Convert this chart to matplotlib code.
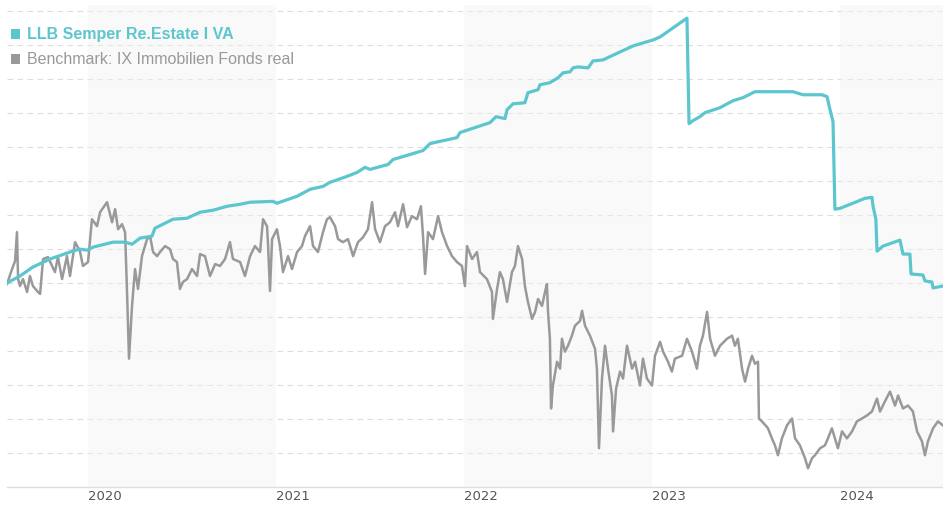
import matplotlib
matplotlib.use("Agg")
import matplotlib.pyplot as plt
from matplotlib.patches import Rectangle

# time in decimal years, values = performance in % since start
fund_t = [2019.569, 2019.638, 2019.707, 2019.798, 2019.920, 2019.957, 2019.995, 2020.027,
          2020.133, 2020.197, 2020.234, 2020.277, 2020.340, 2020.356, 2020.452, 2020.527,
          2020.596, 2020.665, 2020.739, 2020.809, 2020.862, 2020.984, 2021.005, 2021.112,
          2021.181, 2021.250, 2021.287, 2021.378, 2021.431, 2021.473, 2021.500, 2021.596,
          2021.622, 2021.713, 2021.782, 2021.819, 2021.963, 2021.979, 2022.138, 2022.170,
          2022.218, 2022.229, 2022.261, 2022.324, 2022.340, 2022.394, 2022.404, 2022.457,
          2022.500, 2022.527, 2022.564, 2022.580, 2022.606, 2022.660, 2022.686, 2022.739,
          2022.830, 2022.899, 2022.952, 2023.005, 2023.043, 2023.096, 2023.186, 2023.197,
          2023.218, 2023.255, 2023.282, 2023.362, 2023.431, 2023.484, 2023.548, 2023.574,
          2023.750, 2023.803, 2023.904, 2023.931, 2023.947, 2023.963, 2023.973, 2024.000,
          2024.069, 2024.133, 2024.170, 2024.176, 2024.191, 2024.197, 2024.229, 2024.319,
          2024.335, 2024.372, 2024.378, 2024.441, 2024.452, 2024.489, 2024.495, 2024.548]
fund_v = [0.0, 0.41, 0.94, 1.41, 1.88, 1.99, 1.93, 2.11,
          2.40, 2.40, 2.28, 2.64, 2.75, 3.22, 3.75, 3.81,
          4.16, 4.28, 4.51, 4.63, 4.75, 4.80, 4.69, 5.10,
          5.51, 5.68, 5.92, 6.27, 6.50, 6.80, 6.68, 6.97,
          7.26, 7.56, 7.79, 8.20, 8.55, 8.85, 9.43, 9.78,
          9.67, 10.19, 10.54, 10.60, 11.19, 11.37, 11.66, 11.78,
          12.07, 12.36, 12.42, 12.65, 12.71, 12.65, 13.06, 13.12,
          13.59, 13.94, 14.12, 14.29, 14.47, 14.88, 15.58, 9.37,
          9.55, 9.78, 10.02, 10.31, 10.72, 10.90, 11.25, 11.25,
          11.25, 11.07, 11.07, 10.96, 10.19, 9.49, 4.34, 4.39,
          4.69, 4.98, 5.04, 4.51, 3.75, 1.87, 2.17, 2.52,
          1.70, 1.70, 0.53, 0.47, 0.12, 0.06, -0.29, -0.18]

bench_t = [2019.569, 2019.596, 2019.612, 2019.622, 2019.628, 2019.638, 2019.654, 2019.676,
           2019.691, 2019.707, 2019.734, 2019.745, 2019.761, 2019.787, 2019.809, 2019.824,
           2019.840, 2019.862, 2019.888, 2019.904, 2019.931, 2019.957, 2019.973, 2020.000,
           2020.021, 2020.048, 2020.064, 2020.101, 2020.128, 2020.144, 2020.160, 2020.181,
           2020.197, 2020.207, 2020.218, 2020.234, 2020.250, 2020.266, 2020.287, 2020.314,
           2020.330, 2020.346, 2020.367, 2020.383, 2020.410, 2020.436, 2020.452, 2020.473,
           2020.489, 2020.505, 2020.527, 2020.553, 2020.580, 2020.596, 2020.622, 2020.649,
           2020.676, 2020.702, 2020.729, 2020.755, 2020.771, 2020.809, 2020.835, 2020.862,
           2020.888, 2020.915, 2020.931, 2020.952, 2020.957, 2020.968, 2020.979, 2021.005,
           2021.021, 2021.037, 2021.064, 2021.085, 2021.112, 2021.138, 2021.154, 2021.181,
           2021.197, 2021.223, 2021.250, 2021.271, 2021.287, 2021.314, 2021.330, 2021.356,
           2021.383, 2021.410, 2021.436, 2021.463, 2021.489, 2021.511, 2021.527, 2021.553,
           2021.580, 2021.606, 2021.633, 2021.649, 2021.676, 2021.697, 2021.723, 2021.750,
           2021.771, 2021.782, 2021.793, 2021.809, 2021.835, 2021.862, 2021.883, 2021.910,
           2021.936, 2021.963, 2021.989, 2022.005, 2022.016, 2022.043, 2022.069, 2022.085,
           2022.122, 2022.149, 2022.154, 2022.176, 2022.191, 2022.207, 2022.229, 2022.255,
           2022.271, 2022.287, 2022.309, 2022.324, 2022.340, 2022.362, 2022.378, 2022.394,
           2022.415, 2022.431, 2022.441, 2022.447, 2022.457, 2022.463, 2022.473, 2022.495,
           2022.511, 2022.521, 2022.537, 2022.553, 2022.574, 2022.590, 2022.617, 2022.628,
           2022.644, 2022.670, 2022.697, 2022.707, 2022.718, 2022.734, 2022.750, 2022.766,
           2022.787, 2022.793, 2022.809, 2022.830, 2022.846, 2022.867, 2022.894, 2022.910,
           2022.936, 2022.952, 2022.973, 2023.000, 2023.016, 2023.043, 2023.059, 2023.085,
           2023.106, 2023.122, 2023.160, 2023.186, 2023.213, 2023.239, 2023.255, 2023.271,
           2023.293, 2023.309, 2023.335, 2023.362, 2023.399, 2023.426, 2023.441, 2023.457,
           2023.479, 2023.495, 2023.511, 2023.532, 2023.548, 2023.564, 2023.569, 2023.590,
           2023.617, 2023.638, 2023.654, 2023.670, 2023.691, 2023.718, 2023.745, 2023.761,
           2023.787, 2023.814, 2023.830, 2023.851, 2023.867, 2023.894, 2023.920, 2023.936,
           2023.957, 2023.973, 2023.989, 2024.011, 2024.037, 2024.064, 2024.090, 2024.117,
           2024.144, 2024.170, 2024.197, 2024.213, 2024.239, 2024.266, 2024.293, 2024.309,
           2024.335, 2024.362, 2024.388, 2024.410, 2024.436, 2024.452, 2024.468, 2024.495,
           2024.521, 2024.548]
bench_v = [-0.06, 0.82, 1.29, 2.99, 0.23, -0.18, 0.23, -0.53,
           0.41, -0.18, -0.53, -0.64, 1.41, 1.52, 1.00, 0.64,
           1.52, 0.23, 1.58, 0.41, 2.40, 1.87, 1.00, 1.23,
           3.75, 3.34, 4.16, 4.75, 3.57, 4.34, 3.16, 3.46,
           2.99, -0.35, -4.45, -1.35, 0.82, -0.35, 1.58, 2.58,
           2.75, 1.82, 1.58, 1.82, 2.17, 1.99, 1.41, 1.23,
           -0.35, 0.06, 0.23, 0.82, 0.41, 1.70, 1.58, 0.41,
           1.11, 1.00, 1.41, 2.40, 1.41, 1.23, 0.41, 1.58,
           2.17, 1.82, 3.75, 3.34, 2.40, -0.47, 2.58, 3.16,
           2.17, 0.64, 1.58, 0.82, 1.82, 2.17, 2.75, 3.34,
           2.17, 1.82, 2.99, 3.75, 3.87, 3.34, 2.58, 2.40,
           2.58, 1.58, 2.40, 2.69, 3.16, 4.75, 3.16, 2.40,
           3.34, 3.57, 4.16, 3.34, 4.63, 3.28, 3.93, 3.75,
           4.51, 2.75, 0.53, 2.99, 2.58, 3.93, 2.99, 2.17,
           1.58, 1.23, 1.00, -0.18, 2.17, 1.41, 1.82, 0.64,
           0.23, -0.53, -2.11, -0.35, 0.64, 0.23, -1.11, 0.64,
           1.00, 2.17, 1.41, -0.18, -1.11, -2.11, -1.70, -0.94,
           -1.35, -0.53, -0.06, -1.70, -3.28, -7.38, -6.03, -4.63,
           -5.04, -3.28, -4.04, -3.69, -3.10, -2.52, -2.23, -1.64,
           -2.52, -3.10, -3.87, -5.04, -9.72, -5.62, -3.69, -5.04,
           -6.62, -8.73, -6.21, -5.21, -5.62, -3.69, -5.04, -4.63,
           -6.03, -4.45, -5.62, -6.03, -4.28, -3.46, -4.04, -4.63,
           -5.21, -4.45, -4.28, -3.28, -4.04, -5.04, -3.69, -3.10,
           -1.70, -3.28, -4.28, -3.69, -3.28, -3.10, -3.69, -3.28,
           -5.04, -5.80, -5.04, -4.28, -4.75, -4.63, -7.97, -8.20,
           -8.55, -9.14, -9.55, -10.13, -9.14, -8.38, -7.97, -9.14,
           -9.55, -10.31, -10.90, -10.31, -10.13, -9.72, -9.55, -9.14,
           -8.55, -9.14, -9.72, -8.73, -9.14, -8.73, -8.14, -7.97,
           -7.79, -7.56, -6.80, -7.56, -6.97, -6.39, -7.21, -6.62,
           -7.38, -7.21, -7.56, -8.73, -9.31, -10.13, -9.31, -8.55,
           -8.14, -8.38]

years = [2020, 2021, 2022, 2023, 2024]
shaded_years = [2020, 2022, 2024]

fund_name = "LLB Semper Re.Estate I VA"
bench_name = "Benchmark: IX Immobilien Fonds real"
teal = "#5cc6ce"
grey = "#999999"

W, H = 943, 505
fig = plt.figure(figsize=(W / 100, H / 100), dpi=100)
ax = fig.add_axes([7 / W, 18 / H, 936 / W, 482 / H])

ax.set_xlim(2019.569, 2024.548)
ax.set_ylim(-12, 16.35)

for y0 in shaded_years:
    ax.axvspan(y0, y0 + 1, facecolor="#f2f2f2", alpha=0.45, lw=0, zorder=1)

ax.set_yticks(range(-10, 17, 2))
ax.yaxis.grid(True, color="#dddddd", lw=0.8, ls=(0, (5, 4)), zorder=0.5)
ax.set_axisbelow(True)
ax.tick_params(axis="y", left=False, labelleft=False)

ax.plot(bench_t, bench_v, color=grey, lw=1.8, zorder=3)
ax.plot(fund_t, fund_v, color=teal, lw=2.3, zorder=4)

for s in ["top", "left", "right"]:
    ax.spines[s].set_visible(False)
ax.spines["bottom"].set_color("#dedede")
ax.spines["bottom"].set_linewidth(1.0)

ax.set_xticks(years)
ax.set_xticklabels([str(y) for y in years], fontsize=9.5, color="#555555",
                   family="DejaVu Sans")
for lab in ax.get_xticklabels():
    lab.set_ha("left")
ax.tick_params(axis="x", length=0, pad=2)

# legend at top left
fig.add_artist(Rectangle((11 / W, 1 - 38.5 / H), 9 / W, 9 / H, transform=fig.transFigure,
                         facecolor=teal, edgecolor="none"))
fig.add_artist(Rectangle((11 / W, 1 - 63.5 / H), 9 / W, 9 / H, transform=fig.transFigure,
                         facecolor=grey, edgecolor="none"))
fig.text(27 / W, 1 - 34 / H, fund_name, fontsize=11.5, fontweight="bold", color=teal,
         family=["Liberation Sans", "DejaVu Sans"], va="center", ha="left")
fig.text(27 / W, 1 - 59 / H, bench_name, fontsize=11.5, color=grey,
         family=["Liberation Sans", "DejaVu Sans"], va="center", ha="left")

fig.savefig("out.png", dpi=100, facecolor="white")
